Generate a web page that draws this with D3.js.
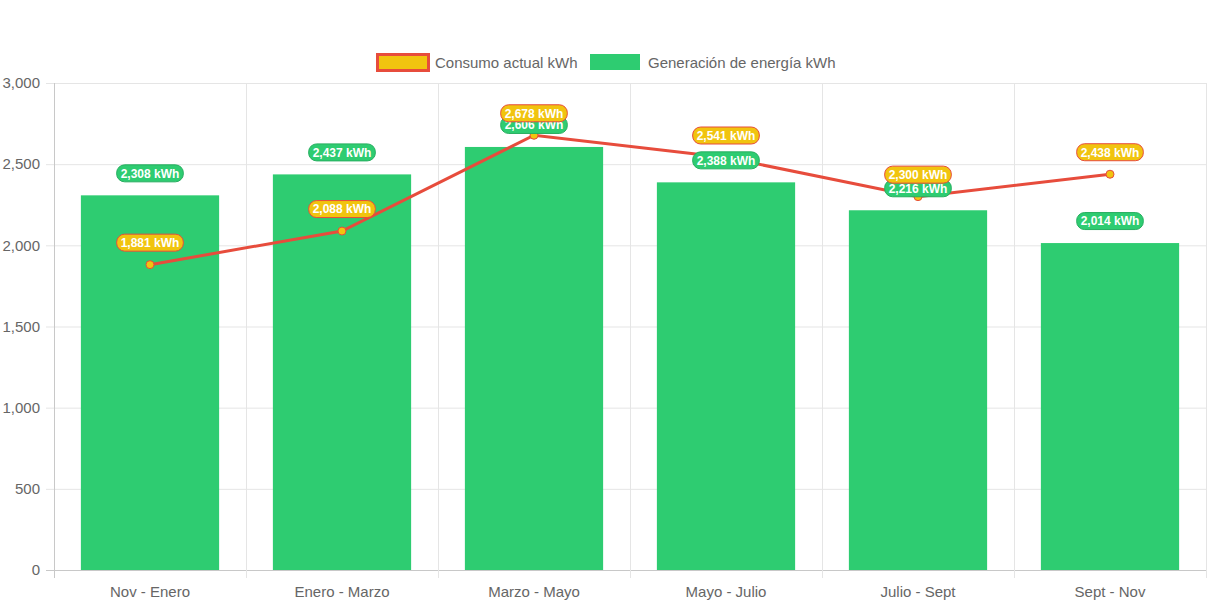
<!DOCTYPE html>
<html>
<head>
<meta charset="utf-8">
<script src="https://cdn.jsdelivr.net/npm/d3@7"></script>
<style>
  body { margin: 0; background: #fff; }
  svg { font-family: "Helvetica Neue", Helvetica, Arial, "Liberation Sans", sans-serif; }
</style>
</head>
<body>
<div id="chart"></div>
<script>
const periods = ["Nov - Enero", "Enero - Marzo", "Marzo - Mayo", "Mayo - Julio", "Julio - Sept", "Sept - Nov"];
const consumo = [1881, 2088, 2678, 2541, 2300, 2438];
const generacion = [2308, 2437, 2606, 2388, 2216, 2014];
const yTicks = [0, 500, 1000, 1500, 2000, 2500, 3000];

const width = 1213, height = 606;
const margin = {left: 54, top: 83, right: 7, bottom: 36};
const w = width - margin.left - margin.right;
const h = height - margin.top - margin.bottom;

const green = "#2ecc71", yellow = "#f1c40f", red = "#e74c3c";

const svg = d3.select("#chart").append("svg")
    .attr("width", width)
    .attr("height", height);

var x = d3.scaleBand()
    .domain(periods)
    .range([0, w]);

var y = d3.scaleLinear()
    .domain([0, 3000])
    .range([h, 0]);

var g = svg.append("g")
    .attr("transform", `translate(${margin.left}, ${margin.top})`);

// grid
g.selectAll(".hgrid").data(yTicks).enter().append("line")
    .attr("x1", -8).attr("x2", w)
    .attr("y1", d => y(d) + 0.5).attr("y2", d => y(d) + 0.5)
    .attr("stroke", d => d === 0 ? "#c8c8c8" : "#e5e5e5");

const bounds = periods.map(p => x(p)).concat([w]);
g.selectAll(".vgrid").data(bounds).enter().append("line")
    .attr("x1", d => Math.round(d) + 0.5).attr("x2", d => Math.round(d) + 0.5)
    .attr("y1", 0).attr("y2", h + 8)
    .attr("stroke", (d, i) => i === 0 ? "#c8c8c8" : "#e5e5e5");

// axis labels
g.selectAll(".ylab").data(yTicks).enter().append("text")
    .attr("x", -14).attr("y", d => y(d))
    .attr("dy", "0.35em")
    .attr("text-anchor", "end")
    .attr("font-size", 15)
    .attr("fill", "#666")
    .text(d => d3.format(",")(d));

g.selectAll(".xlab").data(periods).enter().append("text")
    .attr("x", d => x(d) + x.bandwidth() / 2)
    .attr("y", h + 27)
    .attr("text-anchor", "middle")
    .attr("font-size", 15)
    .attr("fill", "#666")
    .text(d => d);

// bars
const barW = x.bandwidth() * 0.72;
g.selectAll(".bar").data(generacion).enter().append("rect")
    .attr("x", (d, i) => x(periods[i]) + (x.bandwidth() - barW) / 2)
    .attr("y", d => y(d))
    .attr("width", barW)
    .attr("height", d => h - y(d))
    .attr("fill", green);

// line
const cx = i => x(periods[i]) + x.bandwidth() / 2;
const line = d3.line()
    .x((d, i) => cx(i))
    .y(d => y(d));

g.append("path")
    .datum(consumo)
    .attr("d", line)
    .attr("fill", "none")
    .attr("stroke", red)
    .attr("stroke-width", 3);

g.selectAll(".pt").data(consumo).enter().append("circle")
    .attr("cx", (d, i) => cx(i))
    .attr("cy", d => y(d))
    .attr("r", 4)
    .attr("fill", yellow)
    .attr("stroke", red)
    .attr("stroke-width", 1);

// data labels
function labels(data, bg, border) {
    const lg = g.selectAll(null).data(data).enter().append("g")
        .attr("transform", (d, i) => `translate(${cx(i)}, ${y(d) - 22})`);
    lg.append("text")
        .attr("text-anchor", "middle")
        .attr("dy", "0.36em")
        .attr("font-size", 12)
        .attr("font-weight", "bold")
        .attr("fill", "#fff")
        .text(d => d3.format(",")(d) + " kWh");
    lg.each(function() {
        const t = d3.select(this).select("text");
        const bw = t.node().getComputedTextLength() + 8;
        d3.select(this).insert("rect", "text")
            .attr("x", -bw / 2).attr("y", -8.5)
            .attr("width", bw).attr("height", 17)
            .attr("rx", 8).attr("ry", 8)
            .attr("fill", bg)
            .attr("stroke", border)
            .attr("stroke-width", 1);
    });
}
labels(generacion, green, "#27ae60");
labels(consumo, yellow, red);

// legend
const leg = svg.append("g");
leg.append("rect")
    .attr("x", 377.5).attr("y", 54.5).attr("width", 51).attr("height", 16)
    .attr("fill", yellow).attr("stroke", red).attr("stroke-width", 3);
leg.append("text")
    .attr("x", 435).attr("y", 62.5).attr("dy", "0.35em")
    .attr("font-size", 15).attr("fill", "#666")
    .text("Consumo actual kWh");
leg.append("rect")
    .attr("x", 590).attr("y", 54).attr("width", 50).attr("height", 16)
    .attr("fill", green);
leg.append("text")
    .attr("x", 648).attr("y", 62.5).attr("dy", "0.35em")
    .attr("font-size", 15).attr("fill", "#666")
    .text("Generación de energía kWh");
</script>
</body>
</html>
